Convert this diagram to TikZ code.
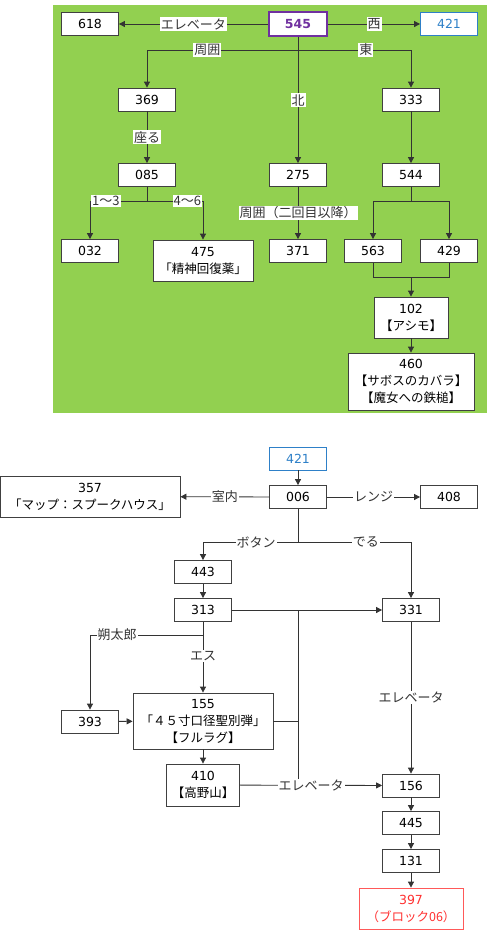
\documentclass[tikz,border=0pt]{standalone}
\usepackage{fontspec}
\setmainfont{DejaVu Sans}
\newfontfamily\cjk{Noto Sans CJK JP}
\usetikzlibrary{
  arrows.meta
}

\definecolor{panelgreen}{HTML}{92D050}
\definecolor{startpurple}{HTML}{7030A0}
\definecolor{linkblue}{HTML}{2E80C8}
\definecolor{goalred}{HTML}{FF3030}

\tikzset{
  room/.style={draw=black!75, fill=white, line width=0.8pt, minimum width=57pt,
    minimum height=23pt, inner sep=2pt, align=center, font=\fontsize{12.5}{17}\selectfont},
  startroom/.style={room, draw=startpurple, line width=2.5pt, text=startpurple,
    font=\fontsize{12.5}{17}\selectfont\bfseries},
  linkroom/.style={room, draw=linkblue, text=linkblue},
  goalroom/.style={room, draw=goalred!80, text=goalred},
  choice/.style={fill=white, inner sep=1pt, font=\fontsize{13}{14}\selectfont\cjk},
  go/.style={-{Triangle[length=6pt,width=6pt]}, line width=0.8pt, black!80},
  wire/.style={line width=0.8pt, black!80}
}

\begin{document}
\begin{tikzpicture}[x=1pt, y=-1pt]
  \useasboundingbox (0,0) rectangle (495,930);
  \fill[panelgreen] (53,5) rectangle (487,413);

  % upper floor
  \node[startroom, minimum width=58pt, minimum height=24pt] (r545) at (298,24) {545};
  \node[room] (r618) at (90,24) {618};
  \node[linkroom] (r421a) at (449,24) {421};
  \node[room] (r369) at (147,99.5) {369};
  \node[room] (r333) at (411,99.5) {333};
  \node[room] (r085) at (147,175) {085};
  \node[room] (r275) at (298,175) {275};
  \node[room] (r544) at (411,175) {544};
  \node[room] (r032) at (90,251) {032};
  \node[room, minimum width=100pt, minimum height=41pt] (r475) at (203,260.5) {475\\{\cjk 「精神回復薬」}};
  \node[room] (r371) at (298,251) {371};
  \node[room] (r563) at (373,251) {563};
  \node[room] (r429) at (449,251) {429};
  \node[room, minimum width=74pt, minimum height=41pt] (r102) at (411,317.5) {102\\{\cjk 【アシモ】}};
  \node[room, minimum width=126pt, minimum height=57pt] (r460) at (411,381.5)
    {460\\{\cjk 【サボスのカバラ】}\\{\cjk 【魔女への鉄槌】}};

  \coordinate (b545) at (298,50);
  \coordinate (b085) at (147,201);
  \coordinate (b544) at (411,201);
  \coordinate (j102) at (411,277);

  \draw[go] (r545) -- node[choice] {エレベータ} (r618);
  \draw[go] (r545) -- node[choice] {西} (r421a);
  \draw[go] (r545) -- node[choice] {北} (r275);
  \draw[go] (b545) -| node[choice, pos=0.3] {周囲} (r369);
  \draw[go] (b545) -| node[choice, pos=0.3] {東} (r333);
  \draw[go] (r369) -- node[choice] {座る} (r085);
  \draw[wire] (r085) -- (b085);
  \draw[go] (b085) -| node[choice, pos=0.36] {1～3} (r032);
  \draw[go] (b085) -| node[choice, pos=0.36] {4～6} (r475);
  \draw[go] (r275) -- node[choice] {周囲（二回目以降）} (r371);
  \draw[go] (r333) -- (r544);
  \draw[wire] (r544) -- (b544);
  \draw[go] (b544) -| (r563);
  \draw[go] (b544) -| (r429);
  \draw[wire] (r563) |- (j102);
  \draw[wire] (r429) |- (j102);
  \draw[go] (j102) -- (r102);
  \draw[go] (r102) -- (r460);

  % lower floor
  \node[linkroom] (r421b) at (298,458.5) {421};
  \node[room] (r006) at (298,497) {006};
  \node[room, minimum width=180pt, minimum height=41pt] (r357) at (90,496.5)
    {357\\{\cjk 「マップ：スプークハウス」}};
  \node[room] (r408) at (449,497) {408};
  \node[room] (r443) at (203,572) {443};
  \node[room] (r313) at (203,610) {313};
  \node[room] (r331) at (411,610) {331};
  \node[room] (r393) at (90,721.5) {393};
  \node[room, minimum width=140pt, minimum height=56pt] (r155) at (203,721)
    {155\\{\cjk 「４５寸口径聖別弾」}\\{\cjk 【フルラグ】}};
  \node[room, minimum width=73pt, minimum height=42pt] (r410) at (203,785) {410\\{\cjk 【高野山】}};
  \node[room] (r156) at (411,785.5) {156};
  \node[room] (r445) at (411,823) {445};
  \node[room] (r131) at (411,861) {131};
  \node[goalroom, minimum width=104pt, minimum height=41pt] (r397) at (411,908.5)
    {397\\{\cjk （ブロック06）}};

  \coordinate (b006) at (298,542);
  \coordinate (b313) at (203,635);
  \coordinate (m331) at (298,610);
  \coordinate (m155) at (298,721);
  \coordinate (m410) at (298,785);

  \draw[go] (r421b) -- (r006);
  \draw[go] (r006) -- node[choice] {室内} (r357);
  \draw[go] (r006) -- node[choice] {レンジ} (r408);
  \draw[wire] (r006) -- (b006);
  \draw[go] (b006) -| node[choice, pos=0.22] {ボタン} (r443);
  \draw[go] (b006) -| node[choice, pos=0.3] {でる} (r331);
  \draw[go] (r443) -- (r313);
  \draw[go] (r313) -- (r331);
  \draw[wire] (r313) -- (b313);
  \draw[go] (b313) -| node[choice, pos=0.38] {朔太郎} (r393);
  \draw[go] (b313) -- node[choice, pos=0.36] {エス} (r155);
  \draw[go] (r393) -- (r155);
  \draw[wire] (r155) -| (m331);
  \draw[wire] (m155) -- (m410);
  \draw[go] (r155) -- (r410);
  \draw[go] (r410) -- node[choice] {エレベータ} (r156);
  \draw[go] (r331) -- node[choice] {エレベータ} (r156);
  \draw[go] (r156) -- (r445);
  \draw[go] (r445) -- (r131);
  \draw[go] (r131) -- (r397);

\end{tikzpicture}
\end{document}
